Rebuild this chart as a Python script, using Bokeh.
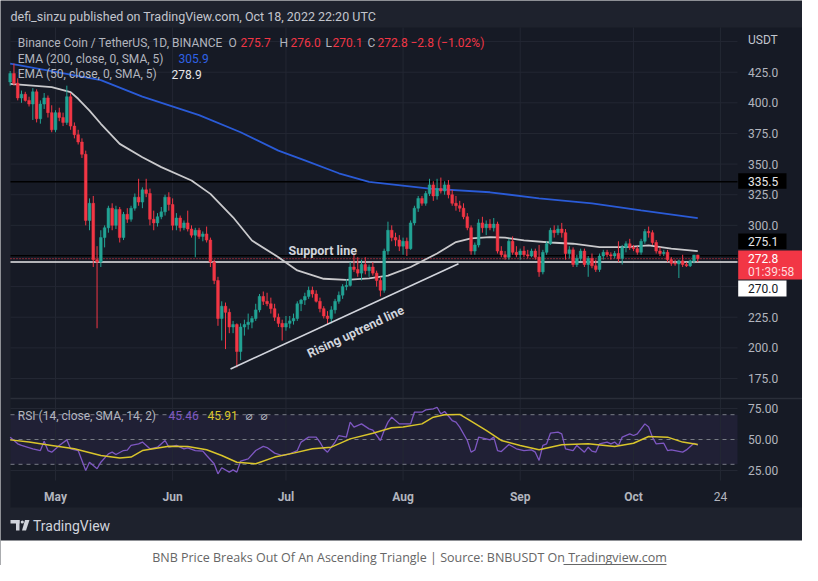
import datetime as dt
import pandas as pd
from bokeh.plotting import figure
from bokeh.models import Range1d, ColumnDataSource
from bokeh.core.properties import value
from bokeh.embed import file_html
from bokeh.resources import INLINE

# ---------------- data ----------------
first_day, last_day = "2022-04-19", "2022-10-18"

open_ = [417, 424, 416, 404, 407, 402, 399, 409, 387, 399, 404, 392,
         378, 392, 388, 384, 405, 381, 374, 368, 358, 304, 318, 272, 270, 290, 298, 314, 300, 313, 290, 309, 305, 314, 323, 319, 329, 326, 305, 302, 307, 311, 323,
         317, 300, 306, 298, 302, 297, 292, 296, 291, 293, 288, 270, 255, 224, 234, 229, 217, 219, 197, 217, 219, 221, 224, 231, 242, 238, 236, 232, 225, 220,
         217, 220, 222, 224, 236, 239, 242, 247, 244, 238, 232, 226, 224, 231, 238, 243, 250, 251, 266, 264, 261, 268, 263, 266, 261, 255, 247, 279, 296, 290, 288,
         283, 287, 281, 302, 314, 322, 318, 326, 333, 324, 330, 328, 333, 325, 318, 316, 314, 307, 298, 279, 284, 302, 298, 301, 298, 301, 279, 276, 274, 287, 278,
         276, 279, 276, 275, 279, 274, 262, 278, 285, 296, 294, 297, 294, 277, 280, 268, 273, 279, 268, 273, 267, 264, 275, 278, 276, 275, 277, 273, 282, 285,
         282, 281, 278, 287, 295, 294, 286, 279, 277, 278, 272, 269, 268.5, 271, 268, 267, 271, 275.7]
high = [426, 432, 420, 410, 409, 405, 412, 411, 402, 408, 406, 398,
        394, 396, 392, 414, 408, 384, 378, 371, 361, 322, 324, 283, 296, 300, 316, 318, 316, 315, 311, 314, 316, 326, 338, 331, 338, 330, 312, 310, 315, 325, 327,
        322, 310, 308, 304, 312, 300, 298, 298, 295, 299, 290, 272, 258, 238, 237, 232, 222, 220, 220, 223, 228, 226, 236, 244, 246, 245, 241, 236, 228, 223,
        226, 226, 228, 238, 240, 245, 250, 250, 247, 241, 234, 230, 234, 240, 246, 252, 256, 270, 276, 274, 272, 274, 268, 270, 263, 258, 281, 303, 300, 294, 292,
        290, 290, 304, 316, 324, 324, 328, 338, 336, 338, 339, 336, 337, 329, 324, 320, 318, 310, 300, 286, 305, 307, 304, 305, 306, 303, 283, 279, 289, 291, 283,
        281, 283, 280, 281, 281, 284, 280, 287, 298, 300, 300, 302, 297, 283, 282, 276, 281, 281, 275, 277, 272, 277, 280, 280, 278, 279, 287, 284, 287, 289,
        284, 283, 289, 297, 299, 296, 288, 282, 280, 280, 274, 272, 272, 276, 270, 272, 276, 276.0]
low = [414, 414, 402, 400, 401, 397, 386, 384, 383, 395, 388, 376,
       376, 385, 381, 382, 378, 371, 366, 355, 300, 296, 266, 216, 266, 282, 294, 296, 297, 286, 288, 302, 303, 312, 316, 314, 323, 300, 296, 299, 305, 308, 312,
       296, 296, 295, 296, 295, 290, 274, 289, 287, 286, 266, 252, 218, 206, 199, 212, 212, 184, 190, 210, 215, 216, 222, 229, 235, 234, 228, 222, 217, 206,
       214, 216, 219, 222, 230, 235, 240, 241, 237, 229, 224, 219, 220, 228, 236, 240, 247, 250, 262, 258, 255, 260, 258, 259, 250, 242, 245, 276, 287, 283, 279,
       276, 275, 280, 300, 311, 316, 316, 324, 320, 321, 326, 325, 322, 316, 312, 311, 305, 296, 276, 276, 282, 294, 292, 296, 295, 277, 274, 272, 272, 276, 274,
       272, 274, 273, 274, 272, 258, 260, 276, 284, 290, 292, 290, 272, 273, 266, 266, 271, 266, 258, 265, 262, 262, 272, 274, 272, 273, 270, 268, 278, 280,
       279, 276, 276, 285, 290, 284, 277, 275, 275, 270, 267, 267, 257, 266, 266, 266, 269, 270.1]
close = [424, 416, 404, 407, 402, 399, 409, 387, 399, 404, 392, 378,
         392, 388, 384, 405, 381, 374, 368, 358, 304, 318, 272, 270, 290, 298, 314, 300, 313, 290, 309, 305, 314, 323, 319, 329, 326, 305, 302, 307, 311, 323, 317,
         300, 306, 298, 302, 297, 292, 296, 291, 293, 288, 270, 255, 224, 234, 229, 217, 219, 197, 217, 219, 221, 224, 231, 242, 238, 236, 232, 225, 220, 217,
         220, 222, 224, 236, 239, 242, 247, 244, 238, 232, 226, 224, 231, 238, 243, 250, 251, 266, 264, 261, 268, 263, 266, 261, 255, 247, 279, 296, 290, 288, 283,
         287, 281, 302, 314, 322, 318, 326, 333, 324, 330, 328, 333, 325, 318, 316, 314, 307, 298, 279, 284, 302, 298, 301, 298, 301, 279, 276, 274, 287, 278, 276,
         279, 276, 275, 279, 274, 262, 278, 285, 296, 294, 297, 294, 277, 280, 268, 273, 279, 268, 273, 267, 264, 275, 278, 276, 275, 277, 273, 282, 285, 282,
         281, 278, 287, 295, 294, 286, 279, 277, 278, 272, 269, 268.5, 271, 268, 267, 271, 275.7, 272.8]

ema200_dates = ["2022-04-19", "2022-05-13", "2022-05-24", "2022-06-08", "2022-06-19", "2022-06-29", "2022-07-06",
                "2022-07-15", "2022-07-23", "2022-08-08", "2022-08-24", "2022-09-06", "2022-09-20", "2022-10-03", "2022-10-18"]
ema200 = [432.0, 418.5, 405.0, 390.0, 376.0, 361.0, 353.0, 342.5, 335.4, 330.0, 327.0, 322.0, 318.0, 312.3, 305.9]

ema50_dates = ["2022-04-19", "2022-04-30", "2022-05-05", "2022-05-07", "2022-05-10", "2022-05-13", "2022-05-18", "2022-05-24",
               "2022-05-29", "2022-06-06", "2022-06-11", "2022-06-17", "2022-06-22", "2022-06-29", "2022-07-04", "2022-07-11",
               "2022-07-17", "2022-07-23", "2022-07-28", "2022-08-03", "2022-08-10", "2022-08-15", "2022-08-19", "2022-08-24",
               "2022-08-28", "2022-09-02", "2022-09-09", "2022-09-15", "2022-09-22", "2022-09-29", "2022-10-05", "2022-10-11", "2022-10-18"]
ema50 = [415.5, 412.8, 408.7, 403.3, 393.7, 382.9, 366.5, 355.6, 347.5, 336.6, 325.7, 306.6, 287.6, 274.0, 263.2, 256.4,
         255.5, 256.7, 259.0, 266.0, 277.0, 286.4, 289.4, 290.4, 290.0, 287.7, 286.0, 285.0, 282.3, 282.3, 283.7, 281.0, 278.9]

rsi_dates = ["2022-04-19", "2022-04-21", "2022-04-22", "2022-04-25", "2022-04-27", "2022-04-28", "2022-04-29", "2022-04-30",
             "2022-05-02", "2022-05-04", "2022-05-05", "2022-05-07", "2022-05-09", "2022-05-10", "2022-05-12", "2022-05-13",
             "2022-05-15", "2022-05-16", "2022-05-17", "2022-05-19", "2022-05-20", "2022-05-21", "2022-05-23", "2022-05-24",
             "2022-05-26", "2022-05-28", "2022-05-30", "2022-05-31", "2022-06-02", "2022-06-04", "2022-06-05", "2022-06-07",
             "2022-06-09", "2022-06-10", "2022-06-12", "2022-06-13", "2022-06-14", "2022-06-16", "2022-06-17", "2022-06-18",
             "2022-06-19", "2022-06-21", "2022-06-23", "2022-06-25", "2022-06-26", "2022-06-28", "2022-06-30", "2022-07-02",
             "2022-07-04", "2022-07-05", "2022-07-07", "2022-07-09", "2022-07-10", "2022-07-11", "2022-07-12", "2022-07-14",
             "2022-07-15", "2022-07-17", "2022-07-18", "2022-07-19", "2022-07-21", "2022-07-23", "2022-07-24", "2022-07-26",
             "2022-07-27", "2022-07-28", "2022-07-29", "2022-07-31", "2022-08-03", "2022-08-04", "2022-08-06", "2022-08-07",
             "2022-08-09", "2022-08-10", "2022-08-11", "2022-08-12", "2022-08-14", "2022-08-15", "2022-08-16", "2022-08-18",
             "2022-08-19", "2022-08-20", "2022-08-21", "2022-08-23", "2022-08-24", "2022-08-25", "2022-08-26", "2022-08-27",
             "2022-08-29", "2022-08-31", "2022-09-02", "2022-09-04", "2022-09-05", "2022-09-06", "2022-09-07", "2022-09-08",
             "2022-09-09", "2022-09-11", "2022-09-12", "2022-09-13", "2022-09-15", "2022-09-16", "2022-09-18", "2022-09-19",
             "2022-09-20", "2022-09-21", "2022-09-22", "2022-09-24", "2022-09-25", "2022-09-26", "2022-09-27", "2022-09-28",
             "2022-09-30", "2022-10-01", "2022-10-02", "2022-10-04", "2022-10-05", "2022-10-06", "2022-10-07", "2022-10-09",
             "2022-10-10", "2022-10-11", "2022-10-12", "2022-10-14", "2022-10-15", "2022-10-17", "2022-10-18"]
rsi = [51.9, 46.5, 45.2, 42.5, 41.1, 48.6, 41.1, 39.8,
       45.2, 49.7, 42.5, 41.1, 25.0, 31.7, 26.4, 31.7,
       38.4, 39.8, 37.9, 41.1, 41.5, 45.2, 46.5, 47.9,
       42.5, 43.8, 49.2, 43.8, 45.2, 42.5, 43.3, 41.1,
       40.6, 37.1, 30.4, 22.3, 27.2, 23.7, 25.5, 23.7,
       32.5, 34.4, 41.1, 44.4, 43.5, 39.0, 37.1, 38.5,
       41.1, 47.9, 51.9, 51.9, 47.9, 42.5, 39.8, 47.9,
       53.2, 52.0, 64.0, 60.0, 62.6, 58.6, 57.5, 49.2,
       57.3, 64.0, 68.0, 62.6, 62.6, 72.0, 72.0, 73.9,
       74.7, 76.0, 70.7, 72.6, 65.3, 64.0, 60.0, 49.2,
       39.8, 41.5, 51.9, 50.5, 49.7, 51.9, 41.1, 40.3,
       46.0, 42.5, 41.1, 41.6, 39.8, 33.1, 45.2, 46.5,
       55.1, 55.9, 54.6, 42.5, 41.1, 45.2, 39.8, 43.8,
       40.6, 39.8, 46.5, 47.9, 46.5, 47.9, 45.2, 51.9,
       54.6, 53.2, 54.6, 62.6, 60.0, 51.9, 46.5, 47.0,
       41.1, 41.6, 41.1, 39.8, 41.6, 47.0, 45.46]

rsi_ma_dates = ["2022-04-19", "2022-04-24", "2022-04-30", "2022-05-06", "2022-05-13", "2022-05-18", "2022-05-21", "2022-05-24",
                "2022-05-31", "2022-06-05", "2022-06-10", "2022-06-14", "2022-06-18", "2022-06-23", "2022-06-28", "2022-07-03",
                "2022-07-08", "2022-07-13", "2022-07-18", "2022-07-24", "2022-07-29", "2022-08-01", "2022-08-06", "2022-08-09",
                "2022-08-12", "2022-08-16", "2022-08-18", "2022-08-23", "2022-08-27", "2022-09-01", "2022-09-06", "2022-09-12",
                "2022-09-19", "2022-09-26", "2022-10-01", "2022-10-05", "2022-10-10", "2022-10-14", "2022-10-18"]
rsi_ma = [49.7, 47.9, 45.2, 42.5, 37.1, 35.0, 35.8, 41.1,
          44.6, 44.4, 41.7, 37.1, 31.7, 30.4, 35.8, 39.0,
          42.5, 43.8, 50.5, 55.1, 59.4, 60.0, 62.6, 68.0,
          69.9, 70.2, 66.7, 57.3, 49.2, 45.2, 41.7, 45.7,
          46.5, 44.4, 47.0, 52.4, 51.9, 47.9, 45.91]

price_ticks = [175, 200, 225, 250, 275, 300, 325, 350, 375, 400, 425]
price_grid = [175, 200, 225, 250, 275, 300, 325, 350, 375, 400, 425, 450]
rsi_ticks = [25, 50, 75]
rsi_bands = [30, 50, 70]
month_ticks = ["2022-05-01", "2022-06-01", "2022-07-01", "2022-08-01", "2022-09-01", "2022-10-01", "2022-10-24"]
month_labels = ["May", "Jun", "Jul", "Aug", "Sep", "Oct", "24"]
month_label_styles = ["bold", "bold", "bold", "bold", "bold", "bold", "normal"]
black_levels = [335.5, 275.1]
support_level = 270.0
last_price = 272.8
countdown = "01:39:58"
trend_dates = ["2022-06-16 08:00", "2022-08-15 16:00"]
trend_prices = [182.8, 268.6]

# ---------------- layout (pixels of the reference picture) ----------------
W, H = 802, 565
T0 = dt.datetime(2022, 5, 1)
X0, PX_DAY = 55.0, 3.778            # May 1 at x 55
Y425, PX_PRICE = 71.7, 1.2252        # 425 at y 71.7
Y75, PX_RSI = 408.0, 1.24            # RSI 75 at y 408


def X(px):
    return T0 + dt.timedelta(days=(px - X0) / PX_DAY)


def P(py):
    return 425 - (py - Y425) / PX_PRICE


def R(py):
    return 75 - (py - Y75) / PX_RSI


OUTER = "#1e222d"
PANEL = "#161a25"
GRID = "#232733"
UP, DN = "#22a394", "#f23645"
TXT = "#b2b5be"
FONT = value("Roboto")

p = figure(width=W, height=H, output_backend="svg", toolbar_location=None,
           x_range=Range1d(X(0), X(W)), y_range=Range1d(P(H), P(0)),
           x_axis_location=None, y_axis_location=None, min_border=0,
           outline_line_color=None, background_fill_color=OUTER, border_fill_color=OUTER)
p.extra_y_ranges = {"rsi": Range1d(R(H), R(0))}
p.grid.visible = False

# backgrounds
p.quad(left=[X(10)], right=[X(809)], top=[P(27)], bottom=[P(507)], fill_color=PANEL, line_color=None)
p.quad(left=[X(0)], right=[X(W)], top=[P(540)], bottom=[P(H)], fill_color="#ffffff", line_color=None)
p.quad(left=[X(10)], right=[X(737)], top=[rsi_bands[2]], bottom=[rsi_bands[0]], y_range_name="rsi",
       fill_color="#7e57c2", fill_alpha=0.1, line_color=None)

# grid
mt = pd.to_datetime(month_ticks)
p.segment(x0=mt, x1=mt, y0=[P(27)] * len(mt), y1=[P(480)] * len(mt), line_color=GRID, line_width=1)
p.segment(x0=[X(10)] * len(price_grid), x1=[X(737)] * len(price_grid), y0=price_grid, y1=price_grid,
          line_color=GRID, line_width=1)
p.segment(x0=[X(10)] * 3, x1=[X(737)] * 3, y0=rsi_ticks, y1=rsi_ticks, y_range_name="rsi",
          line_color=GRID, line_width=1)
p.segment(x0=[X(10)], x1=[X(809)], y0=[P(398)], y1=[P(398)], line_color="#2a2e39", line_width=1.5)

# RSI band dashed lines
p.segment(x0=[X(10)] * 3, x1=[X(737)] * 3, y0=rsi_bands, y1=rsi_bands, y_range_name="rsi",
          line_color="#787b86", line_width=1, line_dash="4 4")

# horizontal levels
p.segment(x0=[X(10)] * 2, x1=[X(737)] * 2, y0=black_levels, y1=black_levels, line_color="#000000", line_width=1.5)
p.segment(x0=[X(10)], x1=[X(737)], y0=[last_price], y1=[last_price], line_color=DN, line_width=1, line_dash="1 2")
p.segment(x0=[X(10)], x1=[X(737)], y0=[support_level], y1=[support_level], line_color="#e8e8ea", line_width=1.5)

# EMAs
p.line(pd.to_datetime(ema200_dates), ema200, line_color="#2a5bd7", line_width=1.8)
p.line(pd.to_datetime(ema50_dates), ema50, line_color="#c9c9cc", line_width=1.8)

# candles
days = pd.date_range(first_day, last_day, freq="D")
src = ColumnDataSource(dict(
    date=days, high=high, low=low,
    top=[max(o, c) for o, c in zip(open_, close)],
    bottom=[min(o, c) for o, c in zip(open_, close)],
    color=[UP if c >= o else DN for o, c in zip(open_, close)]))
p.segment(x0="date", x1="date", y0="high", y1="low", line_color="color", line_width=1, source=src)
p.vbar(x="date", width=0.72 * 86400000, top="top", bottom="bottom", fill_color="color", line_color="color",
       line_width=0.5, source=src)

# trend line
p.line(pd.to_datetime(trend_dates), trend_prices, line_color="#d1d4dc", line_width=1.6)

# RSI
p.line(pd.to_datetime(rsi_dates), rsi, y_range_name="rsi", line_color="#7e57c2", line_width=1.3)
p.line(pd.to_datetime(rsi_ma_dates), rsi_ma, y_range_name="rsi", line_color="#d9c52b", line_width=1.5)


def txt(px, py, s, color=TXT, size="12px", align="left", bold=False, angle=0.0, font=FONT):
    p.text(x=[X(px)], y=[P(py)], text=[s], text_color=color, text_font=font, text_font_size=size,
           text_align=align, text_baseline="middle", text_font_style="bold" if bold else "normal", angle=angle)


# annotations on chart
txt(288, 250, "Support line", color="#d1d4dc", bold=True, size="12.5px")
txt(355, 331, "Rising uptrend line", color="#d1d4dc", bold=True, size="12.5px", align="center", angle=0.44)

# header & legend
txt(10, 15.5, "defi_sinzu published on TradingView.com, Oct 18, 2022 22:20 UTC", color="#c3c6ce", size="12.5px")
txt(17.3, 42, "Binance Coin / TetherUS, 1D, BINANCE", size="12px")
for px_, s, c in [(228, "O", TXT), (240, f"{open_[-1]:.1f}", DN), (279, "H", TXT), (290, f"{high[-1]:.1f}", DN),
                  (325, "L", TXT), (332, f"{low[-1]:.1f}", DN), (367, "C", TXT), (377, f"{close[-1]:.1f}", DN),
                  (410, "\u22122.8 (\u22121.02%)", DN)]:
    txt(px_, 42, s, color=c)
txt(17.3, 58, "EMA (200, close, 0, SMA, 5)")
txt(178, 58, f"{ema200[-1]:.1f}", color="#2f62e6")
txt(17.3, 73.5, "EMA (50, close, 0, SMA, 5)")
txt(171, 73.5, f"{ema50[-1]:.1f}", color="#e6e6e8")
txt(17.3, 415, "RSI (14, close, SMA, 14, 2)")
txt(168, 415, f"{rsi[-1]:.2f}", color="#7e57c2")
txt(207, 415, f"{rsi_ma[-1]:.2f}", color="#d9c52b")
txt(245, 415, "\u2300", font=value("DejaVu Sans"))
txt(260, 415, "\u2300", font=value("DejaVu Sans"))

# price axis labels
p.text(x=[X(747.5)] * len(price_ticks), y=price_ticks, text=[f"{t:.1f}" for t in price_ticks], text_color=TXT,
       text_font=FONT, text_font_size="12px", text_baseline="middle", text_align="left")
p.text(x=[X(747.5)] * 3, y=rsi_ticks, y_range_name="rsi", text=[f"{t:.2f}" for t in rsi_ticks], text_color=TXT,
       text_font=FONT, text_font_size="12px", text_baseline="middle", text_align="left")
txt(747.5, 39, "USDT", color="#c3c6ce")
msrc = ColumnDataSource(dict(x=mt, y=[P(496)] * len(mt), t=month_labels, s=month_label_styles))
p.text(x="x", y="y", text="t", text_font_style="s", source=msrc, text_color=TXT, text_font=FONT,
       text_font_size="12px", text_baseline="middle", text_align="center")

# price tags
p.quad(left=[X(737.7)] * 2, right=[X(786)] * 2, top=[P(172.7), P(233)], bottom=[P(188.3), P(248.5)],
       fill_color="#000000", line_color=None)
txt(747.5, 180.5, f"{black_levels[0]:.1f}", color="#e8e8ea")
txt(747.5, 241, f"{black_levels[1]:.1f}", color="#e8e8ea")
p.quad(left=[X(737.7)], right=[X(804.3)], top=[P(250)], bottom=[P(279)], fill_color=DN, line_color=None)
txt(747.5, 258, f"{last_price:.1f}", color="#ffffff")
txt(747.5, 271.5, countdown, color="#ffd9dc")
p.quad(left=[X(737.7)], right=[X(786)], top=[P(280)], bottom=[P(296)], fill_color="#ffffff", line_color=None)
txt(747.5, 288, f"{support_level:.1f}", color="#131722")

# TradingView logo
p.quad(left=[X(10), X(15.5)], right=[X(19), X(19)], top=[P(519.5), P(519.5)], bottom=[P(523), P(530)],
       fill_color="#d1d4dc", line_color=None)
p.circle(x=[X(21.8)], y=[P(521.5)], radius=1.6 * 86400000 / PX_DAY, fill_color="#d1d4dc", line_color=None)
p.patch(x=[X(24.5), X(29), X(25.5), X(21.5)], y=[P(519.5), P(519.5), P(530), P(530)], fill_color="#d1d4dc",
        line_color=None)
txt(32.5, 525, "TradingView", color="#d1d4dc", size="14px")

# caption
txt(409, 557, "BNB Price Breaks Out Of An Ascending Triangle | Source: BNBUSDT On Tradingview.com",
    color="#666666", size="12.5px", align="center", font=value("Open Sans"))
p.segment(x0=[X(563)], x1=[X(666)], y0=[P(564)], y1=[P(564)], line_color="#666666", line_width=1)

open("out.html", "w").write(file_html(p, INLINE))
